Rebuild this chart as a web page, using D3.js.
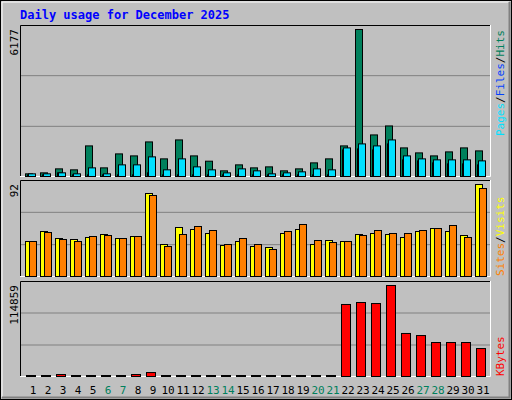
<!DOCTYPE html>
<html><head><meta charset="utf-8">
<script src="https://cdn.jsdelivr.net/npm/d3@7"></script>
<style>body{margin:0;background:#fff}svg{display:block}text{font-family:"DejaVu Sans Mono",monospace}</style>
</head><body><svg id="c" width="512" height="400"></svg>
<script>
const days=d3.range(1,32);
const weekends=[6,7,13,14,20,21,27,28];
const hits=[112,154,321,280,1286,363,950,866,1453,741,1537,866,643,238,489,363,405,238,321,573,741,1286,6177,1747,2124,1202,992,866,1034,1202,1076];
const files=[112,112,154,112,363,112,489,489,825,280,741,405,280,154,321,238,112,154,196,321,280,1202,1370,1286,1537,866,741,699,699,699,657];
const pages=[70,70,154,70,70,70,70,70,154,70,70,70,70,70,70,70,70,70,70,70,70,1118,1160,1118,1370,699,657,573,531,531,489];
const visits=[35,45,38,37,39,42,38,40,83,32,49,47,43,31,35,30,29,43,47,32,36,35,42,43,42,39,45,48,45,41,92];
const sites=[35,44,37,35,40,41,38,40,81,30,42,50,46,32,38,32,27,45,52,36,34,35,41,46,43,43,46,48,51,39,88];
const kbytes=[1000,1000,2500,1000,1000,1000,1000,2500,5000,1000,1000,1000,1000,1000,1000,1000,1000,1000,1000,1000,1000,90900,93400,92100,114859,54300,51700,42900,42900,42900,35300];
const svg=d3.select("#c");
svg.append("rect").attr("x",0.5).attr("y",0.5).attr("width",511).attr("height",399).attr("fill","#c0c0c0").attr("stroke","#000");
svg.append("path").attr("d","M2,397V2H509").attr("fill","none").attr("stroke","#fff");
svg.append("path").attr("d","M2,397.5H509.5V2").attr("fill","none").attr("stroke","#808080").attr("stroke-width",2);
svg.append("text").attr("x",20).attr("y",19).attr("fill","#0000ff").attr("font-weight","bold").attr("font-size",12).text("Daily usage for December 2025");
const x=d3.scaleLinear().domain([1,31]).range([25,475]);
function panel(top,bot,max,label){
  const y=d3.scaleLinear().domain([0,max]).range([bot-1,top+4]);
  svg.append("rect").attr("x",20).attr("y",top).attr("width",471).attr("height",bot-top).attr("fill","#c0c0c0");
  const h=(bot-top)/3;
  [1,2].forEach(i=>svg.append("line").attr("x1",21).attr("x2",490).attr("y1",top+h*i).attr("y2",top+h*i).attr("stroke","#808080"));
  svg.append("path").attr("d",`M20.5,${bot}V${top+0.5}H491`).attr("fill","none").attr("stroke","#000");
  svg.append("path").attr("d",`M20,${bot-0.5}H490.5V${top}`).attr("fill","none").attr("stroke","#fff");
  svg.append("text").attr("transform",`translate(18,${top+4}) rotate(-90)`).attr("text-anchor","end").attr("font-size",11).attr("fill","#000").text(label);
  return y;
}
function bars(data,y,dx,w,color){
  svg.append("g").selectAll("rect").data(data).join("rect")
   .attr("x",(d,i)=>x(i+1)+dx+0.5).attr("width",w)
   .attr("y",d=>Math.min(y(d),y(0)-1)+0.5).attr("height",d=>Math.max(1,y(0)-y(d)))
   .attr("fill",color).attr("stroke","#000");
}
const y1=panel(25,177,6177,"6177");
bars(hits,y1,0,7,"#00805c");
bars(pages,y1,2,4,"#0040ff");
bars(files,y1,3,7,"#00e0ff");
const y2=panel(180,277,92,"92");
bars(visits,y2,0,7,"#ffff00");
bars(sites,y2,4,7,"#ff8000");
const y3=panel(281,377,114859,"114859");
bars(kbytes,y3,1,9,"#ff0000");
svg.append("g").selectAll("text").data(days).join("text")
 .attr("x",d=>x(d)+8).attr("y",394).attr("text-anchor","middle").attr("font-size",11)
 .attr("fill",d=>weekends.includes(d)?"#00805c":"#000").text(d=>d);
function rlabel(yb,parts){
  const t=svg.append("text").attr("transform",`translate(504,${yb}) rotate(-90)`).attr("font-size",11);
  parts.forEach(([s,c])=>t.append("tspan").attr("fill",c).text(s));
}
rlabel(136,[["Pages","#00e0ff"],["/","#000"],["Files","#0040ff"],["/","#000"],["Hits","#00805c"]]);
rlabel(276,[["Sites","#ff8000"],["/","#000"],["Visits","#ffff00"]]);
rlabel(376,[["KBytes","#ff0000"]]);
</script></body></html>
